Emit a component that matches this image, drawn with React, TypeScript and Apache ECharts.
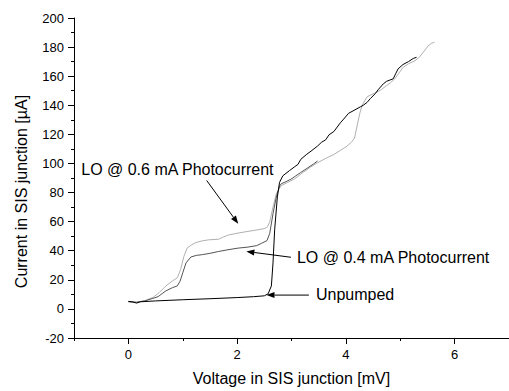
import React, { useEffect, useRef } from "react";
import * as echarts from "echarts";

// ---- Data ----
const xTickValues = [0, 2, 4, 6];
const xMinorValues = [-1, 0, 1, 2, 3, 4, 5, 6, 7];
const yTickValues = [-20, 0, 20, 40, 60, 80, 100, 120, 140, 160, 180, 200];

// Unpumped I-V curve [mV, µA]
const unpumped: [number, number][] = [
  [0, 5.2], [0.08, 4.8], [0.15, 4.0], [0.22, 4.9], [0.5, 5.5], [1.0, 6.3], [1.5, 7.0],
  [2.0, 7.8], [2.3, 8.4], [2.5, 9.0], [2.57, 10.4], [2.63, 15.8], [2.66, 31.6], [2.69, 54.4],
  [2.74, 77], [2.78, 87], [2.84, 91.5], [2.96, 95], [3.05, 97.5], [3.12, 99.4], [3.17, 102.8],
  [3.27, 106], [3.36, 108.5], [3.48, 112], [3.55, 114.5], [3.63, 116.3], [3.69, 119.7],
  [3.78, 122], [3.9, 128], [3.96, 130.5], [4.05, 134.5], [4.15, 136.5], [4.27, 139],
  [4.32, 140], [4.39, 142], [4.45, 144.6], [4.54, 148], [4.6, 151], [4.69, 154.8],
  [4.75, 156.5], [4.87, 158.2], [4.92, 162], [4.96, 165], [5.05, 168], [5.15, 170],
  [5.24, 172.2], [5.3, 173],
];

// LO @ 0.4 mA photocurrent
const pumped04: [number, number][] = [
  [0, 5.0], [0.15, 4.6], [0.3, 5.5], [0.45, 7.2], [0.55, 8.5], [0.62, 10.5], [0.69, 12.4],
  [0.81, 14.6], [0.9, 15.8], [0.95, 19], [1.0, 24.8], [1.06, 31.6], [1.15, 35.7], [1.25, 36.8],
  [1.36, 37.3], [1.5, 38.2], [1.66, 39.5], [1.85, 40.8], [2.02, 41.8], [2.2, 42.5],
  [2.36, 43.5], [2.45, 45.1], [2.55, 47], [2.6, 52], [2.66, 65.5], [2.72, 76.8], [2.78, 84.5],
  [2.81, 86], [2.9, 87.5], [2.99, 89.2], [3.08, 91.5], [3.17, 93.8], [3.3, 97], [3.4, 99.5],
  [3.48, 101.7],
];

// LO @ 0.6 mA photocurrent
const pumped06: [number, number][] = [
  [0, 4.8], [0.15, 4.5], [0.3, 5.6], [0.45, 7.9], [0.57, 11.3], [0.69, 15.8], [0.81, 19.2],
  [0.9, 21.4], [0.96, 27], [1.02, 36], [1.08, 41.8], [1.16, 44], [1.24, 45.6], [1.36, 46.8],
  [1.48, 47.5], [1.66, 47.9], [1.75, 49.5], [1.84, 50.8], [2.0, 52], [2.15, 53], [2.35, 54.2],
  [2.51, 55.3], [2.56, 56.5], [2.6, 59.9], [2.66, 70], [2.72, 79], [2.78, 83], [2.81, 84.7],
  [2.93, 87], [3.05, 89.2], [3.2, 93.5], [3.35, 97.5], [3.48, 100.5], [3.63, 103.5],
  [3.78, 106.2], [3.9, 109], [4.02, 111.9], [4.1, 114.5], [4.16, 117.5], [4.21, 126.5],
  [4.26, 135], [4.3, 140], [4.39, 145.8], [4.48, 147.5], [4.57, 149], [4.66, 151],
  [4.75, 153.6], [4.82, 155.5], [4.9, 158.2], [5.05, 166], [5.15, 168.5], [5.27, 170.6],
  [5.35, 173], [5.42, 176.3], [5.51, 180.7], [5.57, 182.5], [5.63, 183.4],
];

// Annotations: text anchor (left, middle) and arrow from -> to, all in data coords
const annotationTexts = ["LO @ 0.6 mA Photocurrent", "LO @ 0.4 mA Photocurrent", "Unpumped"];
const annotationTextAt: [number, number][] = [[-0.867, 96], [3.1, 35.5], [3.45, 9.7]];
const annotationFrom: [number, number][] = [[1.44, 88.3], [2.99, 35.5], [3.32, 9.5]];
const annotationTo: [number, number][] = [[2.02, 58.5], [2.17, 39.5], [2.54, 9.5]];

const FONT = "'Liberation Sans', Arial, Helvetica, sans-serif";

export default function App() {
  const ref = useRef<HTMLDivElement>(null);
  useEffect(() => {
    if (!ref.current) return;
    const chart = echarts.init(ref.current, null, { renderer: "svg" });
    const axisCommon = {
      type: "value" as const,
      min: -1,
      max: 7,
      position: "bottom" as const,
      splitLine: { show: false },
    };
    chart.setOption({
      animation: false,
      backgroundColor: "#ffffff",
      grid: { left: 74, right: -5, top: 18, bottom: 48 },
      xAxis: [
        {
          ...axisCommon,
          interval: 1,
          axisLine: { show: true, onZero: false, lineStyle: { color: "#000", width: 1 } },
          axisTick: { show: true, length: 3, customValues: xMinorValues, lineStyle: { color: "#000" } },
          axisLabel: {
            show: true,
            customValues: xTickValues,
            margin: 10,
            color: "#000",
            fontSize: 13,
            fontFamily: FONT,
          },
          name: "Voltage in SIS junction [mV]",
          nameLocation: "middle",
          nameGap: 32,
          nameTextStyle: { color: "#000", fontSize: 16, fontFamily: FONT },
        },
        {
          ...axisCommon,
          interval: 1,
          axisLine: { show: false, onZero: false },
          axisTick: { show: true, length: 6, customValues: xTickValues, lineStyle: { color: "#000" } },
          axisLabel: { show: false },
        },
      ],
      yAxis: {
        type: "value",
        min: -20,
        max: 200,
        interval: 20,
        splitLine: { show: false },
        axisLine: { show: true, onZero: false, lineStyle: { color: "#000", width: 1 } },
        axisTick: { show: true, length: 6, lineStyle: { color: "#000" } },
        minorTick: { show: true, splitNumber: 2, length: 3, lineStyle: { color: "#000" } },
        axisLabel: {
          margin: 10,
          color: "#000",
          fontSize: 13,
          fontFamily: FONT,
          customValues: yTickValues,
        },
      },
      series: [
        {
          name: "LO @ 0.6 mA Photocurrent",
          type: "line",
          data: pumped06,
          showSymbol: false,
          symbol: "none",
          lineStyle: { color: "#b0b0b0", width: 1 },
          z: 2,
        },
        {
          name: "LO @ 0.4 mA Photocurrent",
          type: "line",
          data: pumped04,
          showSymbol: false,
          symbol: "none",
          lineStyle: { color: "#555555", width: 1 },
          z: 3,
        },
        {
          name: "Unpumped",
          type: "line",
          data: unpumped,
          showSymbol: false,
          symbol: "none",
          lineStyle: { color: "#000000", width: 1 },
          z: 4,
        },
      ],
    });

    const px = (v: [number, number]) =>
      chart.convertToPixel({ xAxisIndex: 0, yAxisIndex: 0 }, v) as number[];
    const elements: any[] = [];
    annotationTexts.forEach((t, i) => {
      const tp = px(annotationTextAt[i]);
      const a = px(annotationFrom[i]);
      const b = px(annotationTo[i]);
      const dx = b[0] - a[0];
      const dy = b[1] - a[1];
      const len = Math.hypot(dx, dy);
      const ux = dx / len;
      const uy = dy / len;
      const hl = 8;
      const hw = 3;
      const bx = b[0] - ux * hl;
      const by = b[1] - uy * hl;
      elements.push({
        type: "text",
        x: tp[0],
        y: tp[1],
        style: {
          text: t,
          fill: "#000",
          fontSize: 16,
          fontFamily: FONT,
          align: "left",
          verticalAlign: "middle",
        },
      });
      elements.push({
        type: "line",
        shape: { x1: a[0], y1: a[1], x2: bx, y2: by },
        style: { stroke: "#000", lineWidth: 1 },
      });
      elements.push({
        type: "polygon",
        shape: {
          points: [
            [b[0], b[1]],
            [bx - uy * hw, by + ux * hw],
            [bx + uy * hw, by - ux * hw],
          ],
        },
        style: { fill: "#000" },
      });
    });
    elements.push({
      type: "text",
      x: 21,
      y: 191.5,
      rotation: Math.PI / 2,
      style: {
        text: "Current in SIS junction [µA]",
        fill: "#000",
        fontSize: 16,
        fontFamily: FONT,
        align: "center",
        verticalAlign: "middle",
      },
    });
    chart.setOption({ graphic: { elements } });

    return () => chart.dispose();
  }, []);
  return (
    <div
      ref={ref}
      style={{ position: "fixed", left: 0, top: 0, width: 509, height: 391, background: "#fff" }}
    />
  );
}
